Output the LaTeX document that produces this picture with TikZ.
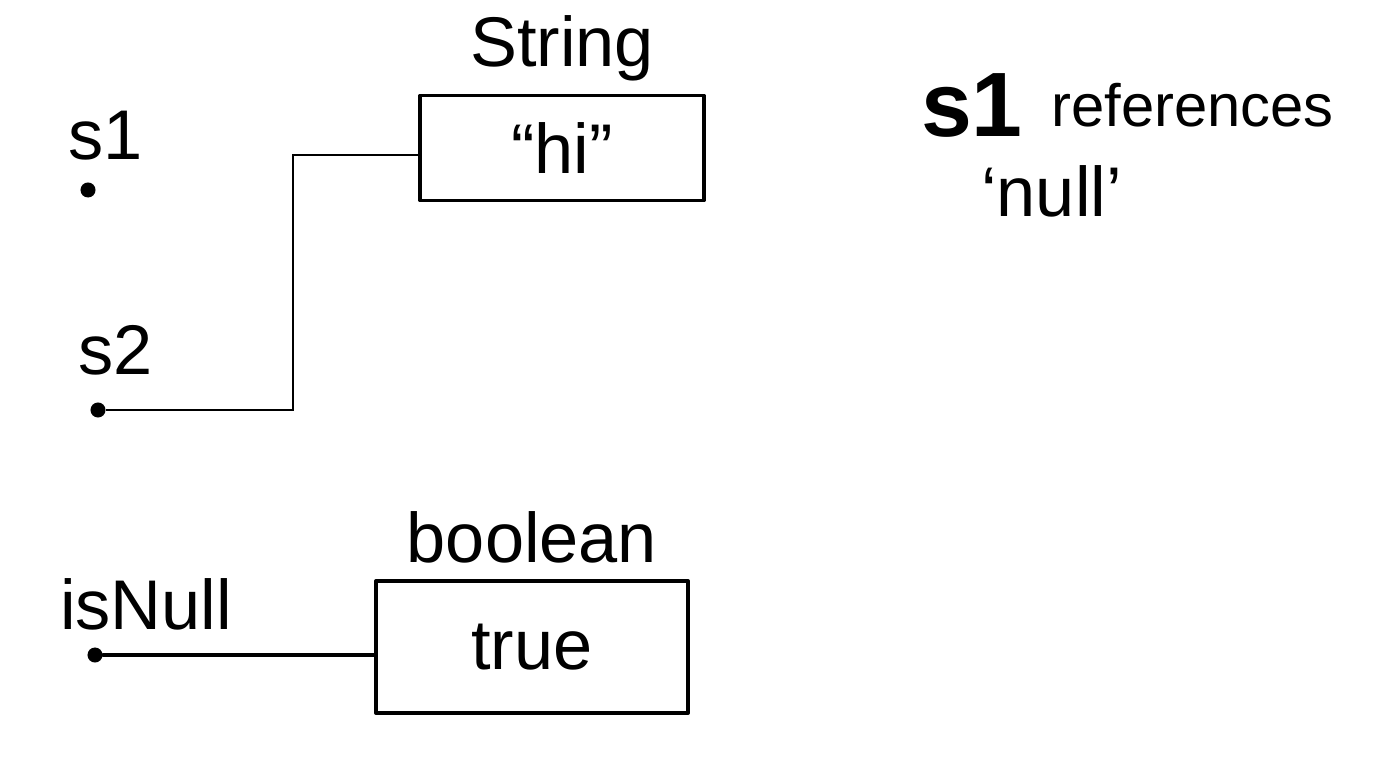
\documentclass[tikz,border=0pt]{standalone}
\usepackage{fontspec}
\setmainfont{Liberation Sans}
\usetikzlibrary{positioning}

\tikzset{
  hand/.style={line width=1.1pt, line cap=round, line join=round},
  var/.style={circle, fill, inner sep=0pt, minimum size=0.15cm},
  valbox/.style={hand, draw, rectangle, inner sep=0pt},
  txt/.style={font=\fontsize{20}{24}\selectfont, inner sep=1pt},
}

\begin{document}
\begin{tikzpicture}[x=0.01cm, y=-0.01cm]
\useasboundingbox (0,0) rectangle (1376,764);

% Variables
\node[var] (s1) at (88,190) {};
\node[txt, above right=0.2cm and -0.3cm of s1] (s1lbl) {s1};
\node[var] (s2) at (98,410) {};
\node[txt, above right=0.25cm and -0.3cm of s2] (s2lbl) {s2};
\node[var] (isnull) at (95,655) {};
\node[txt, above right=0.15cm and -0.45cm of isnull] (isnulllbl) {isNull};

% String object
\node[valbox, minimum width=2.83cm, minimum height=1.05cm] (str) at (562,148) {};
\node[txt] at (str.center) {``hi''};
\node[txt, above=0.08cm of str] (strtype) {String};

% boolean object
\node[valbox, minimum width=3.12cm, minimum height=1.32cm] (bool) at (532,647) {};
\node[txt] at (bool.center) {true};
\node[txt, above=0.12cm of bool] (booltype) {boolean};

% References
\coordinate (bend1) at (293,410);
\coordinate (bend2) at (293,155);
\draw[line width=0.4pt] (s2) -- (bend1) -- (bend2) -- (bend2 -| str.west);
\draw[hand] (isnull) -- (isnull -| bool.west);

% Note
\node[font=\fontsize{26}{30}\selectfont\bfseries, inner sep=1pt] (note) at (972,105) {s1};
\node[txt, font=\fontsize{17}{20}\selectfont, right=0.2cm of note] (notetxt) {references};
\node[txt, below right=0.2cm and -0.5cm of note] (nulltxt) {`null'};
\end{tikzpicture}
\end{document}
